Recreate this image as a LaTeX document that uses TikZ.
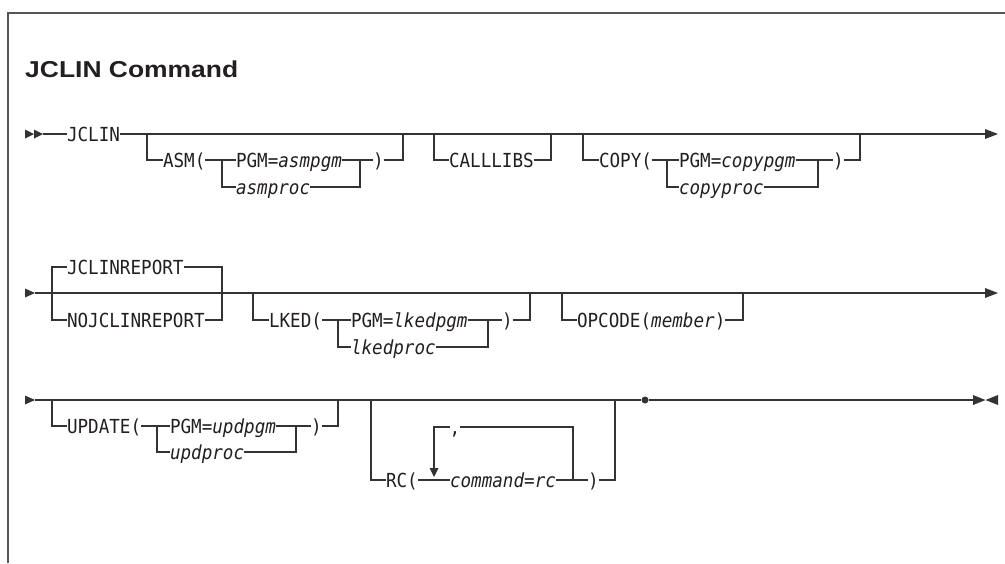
\documentclass[tikz,border=0pt]{standalone}
\usepackage{fontspec}
\newfontfamily\mono{DejaVu Sans Mono}[ItalicFont={DejaVu Sans Mono Oblique}]
\newfontfamily\ttlfont{Liberation Sans}
\newcommand\diagfont{\mono\fontsize{17.6}{20}\selectfont}
\definecolor{lc}{HTML}{333333}
\definecolor{tc}{HTML}{231F20}
\definecolor{fc}{HTML}{555555}
\tikzset{
  ln/.style={draw=lc, line width=1.15pt},
  tx/.style={inner sep=0pt, outer sep=0pt, anchor=west, text height=12.8pt, text depth=0pt, font=\diagfont, text=tc, yscale=1.1, transform shape},
  tri/.style={fill=lc, draw=none},
  framestyle/.style={draw=fc, line width=1.4pt},
}
\begin{document}
\begin{tikzpicture}[x=1pt,y=-1pt]
\useasboundingbox (0,0) rectangle (1005,563);
% frame
\draw[framestyle] (8,563) -- (8,13) -- (1005,13);
% title
\node[anchor=base west, inner sep=0pt, text=tc, font=\ttlfont\bfseries\fontsize{23}{27}\selectfont] (title) at (25,77) {\scalebox{1.15}[1]{JCLIN Command}};

% ---------------- Row 1 ----------------
\fill[tri] (25,129.5) -- (34,134) -- (25,138.5) -- cycle;
\fill[tri] (34,129.5) -- (43,134) -- (34,138.5) -- cycle;
\node[tx] (jclin) at (67,134) {JCLIN};
\coordinate (r1s) at (43,134);
\coordinate (r1e) at (986,134);
\draw[ln] (r1s) -- (jclin.west);
\draw[ln] (jclin.east) -- (r1e);
\fill[tri] (985,129) -- (998,134) -- (985,139) -- cycle;

% ASM
\node[tx] (asm) at (163,160) {ASM(};
\node[tx] (asmpgm) at (236,160) {PGM=\textit{asmpgm}};
\node[tx] (asmproc) at (236,187) {\textit{asmproc}};
\node[tx] (asmcl) at (373,160) {)};
\coordinate (asmfork) at (222,160);
\coordinate (asmjoin) at (360,160);
\draw[ln] (147,134) |- (asm.west);
\draw[ln] (asm.east) -- (asmpgm.west);
\draw[ln] (asmfork) |- (asmproc.west);
\draw[ln] (asmpgm.east) -- (asmcl.west);
\draw[ln] (asmproc.east) -| (asmjoin);
\draw[ln] (asmcl.east) -| (403,134);

% CALLLIBS
\node[tx] (calllibs) at (449,160) {CALLLIBS};
\draw[ln] (434,134) |- (calllibs.west);
\draw[ln] (calllibs.east) -| (551,134);

% COPY
\node[tx] (copy) at (599,160) {COPY(};
\node[tx] (copypgm) at (679,160) {PGM=\textit{copypgm}};
\node[tx] (copyproc) at (679,187) {\textit{copyproc}};
\node[tx] (copycl) at (833,160) {)};
\coordinate (copyfork) at (667,160);
\coordinate (copyjoin) at (818,160);
\draw[ln] (583,134) |- (copy.west);
\draw[ln] (copy.east) -- (copypgm.west);
\draw[ln] (copyfork) |- (copyproc.west);
\draw[ln] (copypgm.east) -- (copycl.west);
\draw[ln] (copyproc.east) -| (copyjoin);
\draw[ln] (copycl.east) -| (860,134);

% ---------------- Row 2 ----------------
\fill[tri] (25,288.5) -- (35,293) -- (25,297.5) -- cycle;
\coordinate (r2s) at (35,293);
\coordinate (r2e) at (986,293);
\draw[ln] (r2s) -- (r2e);
\fill[tri] (985,288) -- (998,293) -- (985,298) -- cycle;

\node[tx] (jrep) at (67,267) {JCLINREPORT};
\node[tx] (nojrep) at (67,320) {NOJCLINREPORT};
\draw[ln] (jrep.west) -| (52,320) -- (nojrep.west);
\draw[ln] (jrep.east) -| (222,320) -- (nojrep.east);

% LKED
\node[tx] (lked) at (269,320) {LKED(};
\node[tx] (lkedpgm) at (351,320) {PGM=\textit{lkedpgm}};
\node[tx] (lkedproc) at (351,347) {\textit{lkedproc}};
\node[tx] (lkedcl) at (502,320) {)};
\coordinate (lkedfork) at (338,320);
\coordinate (lkedjoin) at (488,320);
\draw[ln] (253,293) |- (lked.west);
\draw[ln] (lked.east) -- (lkedpgm.west);
\draw[ln] (lkedfork) |- (lkedproc.west);
\draw[ln] (lkedpgm.east) -- (lkedcl.west);
\draw[ln] (lkedproc.east) -| (lkedjoin);
\draw[ln] (lkedcl.east) -| (530,293);

% OPCODE
\node[tx] (opcode) at (577,320) {OPCODE(\textit{member})};
\draw[ln] (562,293) |- (opcode.west);
\draw[ln] (opcode.east) -| (743,293);

% ---------------- Row 3 ----------------
\fill[tri] (25,395.5) -- (35,400) -- (25,404.5) -- cycle;
\coordinate (r3s) at (35,400);
\node[circle, fill=lc, inner sep=0pt, minimum size=7pt] (dot) at (645,400) {};
\coordinate (r3e) at (974,400);
\draw[ln] (r3s) -- (dot.west);
\draw[ln] (dot.east) -- (r3e);
\fill[tri] (973,395) -- (985.5,400) -- (973,405) -- cycle;
\fill[tri] (998,395) -- (985.5,400) -- (998,405) -- cycle;

% UPDATE
\node[tx] (upd) at (67,426) {UPDATE(};
\node[tx] (updpgm) at (170,426) {PGM=\textit{updpgm}};
\node[tx] (updproc) at (170,452) {\textit{updproc}};
\node[tx] (updcl) at (311,426) {)};
\coordinate (updfork) at (157,426);
\coordinate (updjoin) at (296,426);
\draw[ln] (52,400) |- (upd.west);
\draw[ln] (upd.east) -- (updpgm.west);
\draw[ln] (updfork) |- (updproc.west);
\draw[ln] (updpgm.east) -- (updcl.west);
\draw[ln] (updproc.east) -| (updjoin);
\draw[ln] (updcl.east) -| (338,400);

% RC
\node[tx] (rc) at (386,480) {RC(};
\node[tx] (cmd) at (450,480) {\textit{command=rc}};
\node[tx] (rccl) at (588,480) {)};
\node[tx] (comma) at (449.5,427) {,};
\coordinate (loopl) at (434,469);
\coordinate (loopr) at (573,480);
\draw[ln] (371,400) |- (rc.west);
\draw[ln] (rc.east) -- (cmd.west);
\draw[ln] (cmd.east) -- (rccl.west);
\draw[ln] (rccl.east) -| (615,400);
\draw[ln] (comma.west) -| (loopl);
\draw[ln] (comma.east) -| (loopr);
\fill[tri] (429.5,468) -- (438.5,468) -- (434,477) -- cycle;
\end{tikzpicture}
\end{document}
